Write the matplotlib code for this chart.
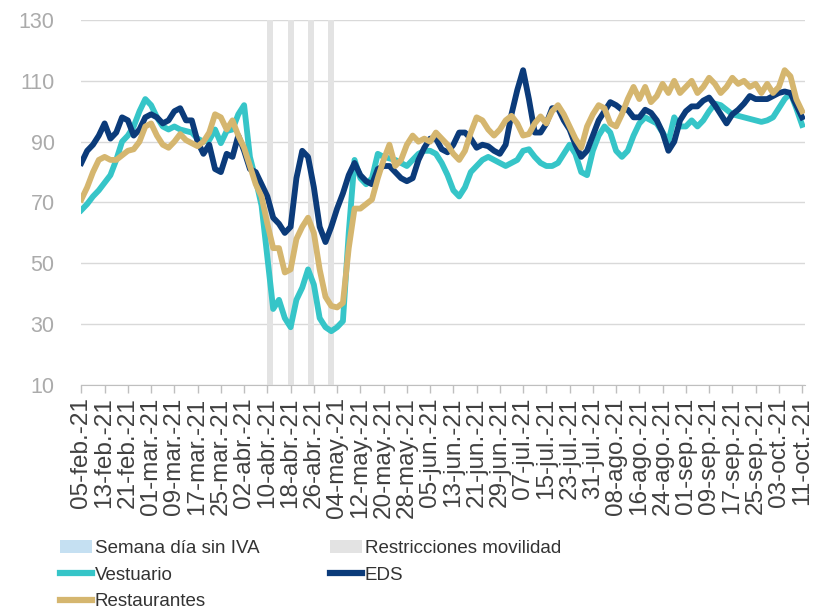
import matplotlib
matplotlib.use('Agg')
import matplotlib.pyplot as plt
from matplotlib import font_manager
from matplotlib.patches import Patch
from matplotlib.lines import Line2D
import pandas as pd

# data every second day, starting 05-feb-21
start = '2021-02-05'
vestuario = [67.5, 69.5, 72, 74, 76.5, 79, 84, 90, 92, 95, 100, 104, 102, 98, 95, 94, 95, 94, 93.5, 93,
             91, 90, 90.5, 94, 89.5, 93.5, 94, 99, 102, 85, 77.5, 69, 52, 35, 38, 32, 29, 38, 42, 48,
             43, 32, 29, 27.7, 29, 31, 60, 84, 78, 76, 78, 86, 85, 84.5, 84, 83, 82, 84, 86, 87,
             87, 86, 83, 79, 74, 72, 75, 80, 82, 84, 85, 84, 83, 82, 83, 84, 87, 87.5, 85, 83,
             82, 82, 83, 86, 89, 86, 80, 79, 87, 92, 95, 93, 87, 85, 87, 92, 96, 98, 97, 96,
             93, 90, 98, 95, 95, 97, 95, 97, 100, 102.5, 102, 100.5, 99, 98.5, 98, 97.5, 97, 96.5, 97, 98,
             101, 104, 106, 101, 95.5]
eds = [83, 87, 89, 92, 96, 91, 93, 98, 97, 92, 94, 98, 99, 98, 96, 97, 100, 101, 97, 97,
       90, 86, 89, 81, 80, 86, 85, 92, 87, 81, 80, 76, 72, 65, 63, 60, 62, 78, 87, 85,
       75, 62, 57, 62, 68, 73, 79, 83, 79, 77, 76, 81, 82, 82, 80, 78, 77, 78, 84, 88,
       91, 91, 87.5, 86.5, 89, 93, 93, 91, 88, 89, 88.5, 87, 86, 89, 99, 107, 113.5, 104, 93, 93,
       96, 101, 101, 97, 94, 89, 85, 87, 92, 97, 100, 103, 102, 100.5, 100.5, 98, 98, 100.5, 99.5, 97,
       93, 87, 90, 97, 100, 101.6, 101.6, 103.5, 104.5, 102, 99, 96, 99, 100.5, 102.5, 105, 104, 104, 104, 105,
       106, 106.5, 106, 102, 98]
restaurantes = [71, 75, 80, 84, 85, 84, 84, 85.5, 87, 87.5, 90, 95, 96, 92, 89, 88, 90, 92.5, 90.5, 89.5,
                88.5, 90, 93, 99, 98, 94, 97, 92, 88, 82, 76, 72, 63, 55, 55, 47, 48, 58, 62, 65,
                60, 48, 39, 36, 35.5, 37, 55, 68, 68, 69.5, 71, 78, 84, 89, 82, 84, 89, 92, 90, 91,
                90, 93, 91, 89, 86, 84, 87, 93, 98, 97, 94, 92, 94, 97, 98.5, 96, 92, 92.5, 96, 98.3,
                96, 100, 102, 99, 95, 91, 88, 95, 99, 102, 101, 96, 95, 99, 104, 108, 104, 108, 103, 105,
                109, 106, 110, 106, 108, 110, 106, 108, 111, 109, 106, 108, 111, 109, 110, 108, 109, 106, 109, 106,
                108, 113.5, 111.5, 104, 100]
restricciones = ['2021-04-10', '2021-04-17', '2021-04-24', '2021-05-01']
tick_labels = ['05-feb.-21', '13-feb.-21', '21-feb.-21', '01-mar.-21', '09-mar.-21', '17-mar.-21',
               '25-mar.-21', '02-abr.-21', '10-abr.-21', '18-abr.-21', '26-abr.-21', '04-may.-21',
               '12-may.-21', '20-may.-21', '28-may.-21', '05-jun.-21', '13-jun.-21', '21-jun.-21',
               '29-jun.-21', '07-jul.-21', '15-jul.-21', '23-jul.-21', '31-jul.-21', '08-ago.-21',
               '16-ago.-21', '24-ago.-21', '01-sep.-21', '09-sep.-21', '17-sep.-21', '25-sep.-21',
               '03-oct.-21', '11-oct.-21']

c_vest = '#36C5C8'
c_eds = '#0B3B7A'
c_rest = '#D5B66F'
c_restr = '#E3E3E3'
c_iva = '#C5E0F2'

names = {f.name for f in font_manager.fontManager.ttflist}
if 'Liberation Sans Narrow' in names:
    leg_font, leg_size = 'Liberation Sans Narrow', 15.5
else:
    leg_font, leg_size = 'Liberation Sans', 13.5
plt.rcParams['font.family'] = ['Liberation Sans', 'DejaVu Sans']

dates = pd.date_range(start, periods=len(eds), freq='2D')
ticks = pd.date_range(start, periods=len(tick_labels), freq='8D')

fig = plt.figure(figsize=(8.25, 6.09), dpi=100)
ax = fig.add_axes([81 / 825, 1 - 385 / 609, 724 / 825, 365 / 609])

for d in restricciones:
    d0 = pd.Timestamp(d)
    ax.axvspan(d0, d0 + pd.Timedelta(days=2), color=c_restr, lw=0, zorder=1)

ax.plot(dates, vestuario, color=c_vest, lw=4.2, zorder=3)
ax.plot(dates, eds, color=c_eds, lw=4.2, zorder=3)
ax.plot(dates, restaurantes, color=c_rest, lw=4.2, zorder=3)

ax.set_ylim(10, 130)
ax.set_yticks(range(10, 131, 20))
ax.set_xlim(pd.Timestamp(start) - pd.Timedelta(hours=3), pd.Timestamp(start) + pd.Timedelta(days=249))
ax.set_xticks(ticks)
ax.set_xticklabels(tick_labels, rotation=90, fontsize=17.5, color='#404040')
ax.tick_params(axis='y', length=0, pad=19, labelsize=15.5, labelcolor='#ABABAB')
ax.tick_params(axis='x', length=6, width=1, color='#BFBFBF', pad=3)
ax.grid(axis='y', color='#D9D9D9', lw=1, zorder=0)
ax.set_axisbelow(True)
for s in ['top', 'right', 'left']:
    ax.spines[s].set_visible(False)
ax.spines['bottom'].set_color('#BFBFBF')

em = leg_size * 100 / 72
handles = [Patch(color=c_iva, lw=0), Line2D([], [], color=c_vest, lw=4.5),
           Line2D([], [], color=c_rest, lw=4.5), Patch(color=c_restr, lw=0),
           Line2D([], [], color=c_eds, lw=4.5)]
labels = ['Semana día sin IVA', 'Vestuario', 'Restaurantes', 'Restricciones movilidad', 'EDS']
fig.legend(handles, labels, loc='upper left', bbox_to_anchor=(60 / 825, 1 - 540 / 609),
           ncol=2, frameon=False, borderpad=0, borderaxespad=0,
           handlelength=32 / em, handletextpad=3 / em, columnspacing=70 / em,
           labelspacing=0.5, prop={'family': leg_font, 'size': leg_size},
           labelcolor='#333333')

fig.savefig('out.png', dpi=100)
